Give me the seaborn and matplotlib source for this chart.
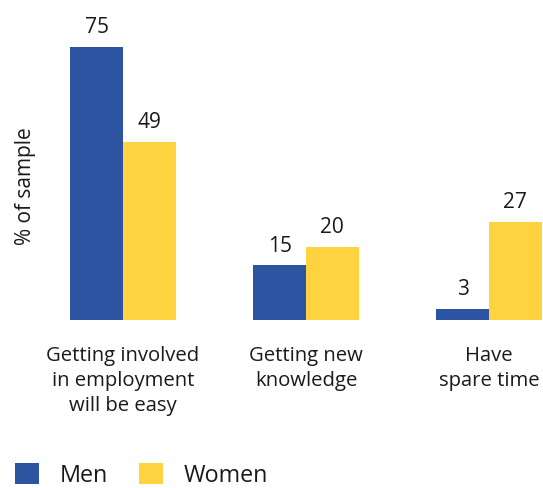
import matplotlib
matplotlib.use("Agg")
import matplotlib.pyplot as plt
import seaborn as sns
import pandas as pd

categories = ["Getting involved\nin employment\nwill be easy", "Getting new\nknowledge", "Have\nspare time"]
men = [75, 15, 3]
women = [49, 20, 27]
groups = ["Men", "Women"]
colors = ["#2C54A0", "#FFD23F"]

df = pd.DataFrame({
    "category": categories * 2,
    "value": men + women,
    "group": [groups[0]] * len(categories) + [groups[1]] * len(categories),
})

sns.set_theme(style="white")
plt.rcParams["font.family"] = ["Open Sans", "DejaVu Sans"]
text_color = "#1a1a1a"

fig = plt.figure(figsize=(5.43, 4.89), dpi=100)
ax = fig.add_axes([0.0, 1 - 321 / 489, 1.0, 321 / 489])

sns.barplot(data=df, x="category", y="value", hue="group", order=categories,
            hue_order=groups, palette=colors, saturation=1, width=0.574, gap=0,
            linewidth=0, edgecolor="none", ax=ax, legend=False)

for container in ax.containers:
    ax.bar_label(container, fmt="%d", padding=7, fontsize=15, color=text_color)

ax.set_xlim(-123 / 183, 2 + 54 / 183)
ax.set_ylim(0, 321 / 3.64)
for side in ax.spines.values():
    side.set_visible(False)
ax.set_yticks([])
ax.set_xlabel("")
ax.tick_params(axis="x", length=0, pad=18, labelsize=14.6, labelcolor=text_color)
for lbl in ax.get_xticklabels():
    lbl.set_multialignment("center")
    lbl.set_linespacing(1.32)

ax.set_ylabel("% of sample", fontsize=15, color=text_color, va="center")
ax.yaxis.set_label_coords(26 / 543, (321 - 186) / 321)

handles = [plt.Rectangle((0, 0), 1, 1, facecolor=c, edgecolor="none") for c in colors]
fig.legend(handles, groups, loc="center left", bbox_to_anchor=(15 / 543, 1 - 476 / 489),
           ncol=2, frameon=False, fontsize=16.8, labelcolor=text_color,
           handlelength=1.03, handleheight=1.03, handletextpad=0.9,
           columnspacing=1.3, borderpad=0, borderaxespad=0)

fig.savefig("out.png", dpi=100)
